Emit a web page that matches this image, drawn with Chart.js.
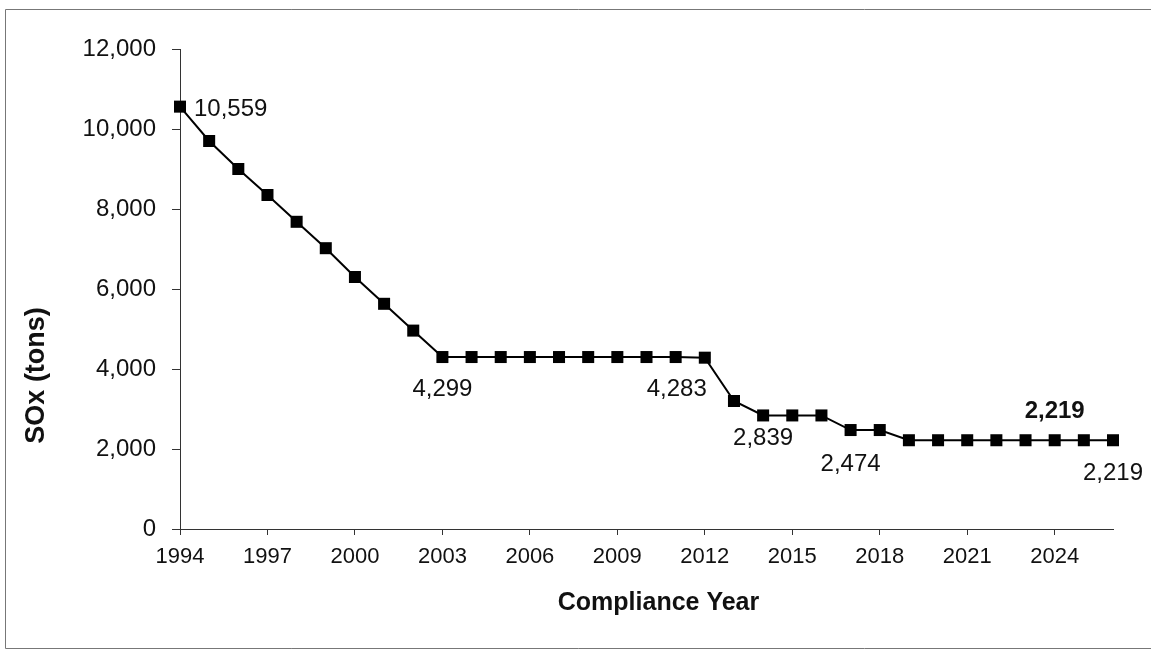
<!DOCTYPE html>
<html>
<head>
<meta charset="utf-8">
<script src="https://cdn.jsdelivr.net/npm/chart.js@4"></script>
<style>
    html, body { margin: 0; padding: 0; background: #fff; }
    #wrap { width: 1151px; height: 650px; position: relative; }
</style>
</head>
<body>
<div id="wrap"><canvas id="chart"></canvas></div>
<script>
// compliance years and SOx allocation (tons)
const years = [1994, 1995, 1996, 1997, 1998, 1999, 2000, 2001, 2002, 2003,
    2004, 2005, 2006, 2007, 2008, 2009, 2010, 2011, 2012, 2013,
    2014, 2015, 2016, 2017, 2018, 2019, 2020, 2021, 2022, 2023,
    2024, 2025, 2026];
const sox = [10559, 9700, 9000, 8350, 7680, 7020, 6300, 5630, 4960, 4299,
    4299, 4299, 4299, 4299, 4299, 4299, 4299, 4299, 4283, 3200,
    2839, 2839, 2839, 2474, 2474, 2219, 2219, 2219, 2219, 2219,
    2219, 2219, 2219];
const yTicks = [0, 2000, 4000, 6000, 8000, 10000, 12000];
const xTickYears = [1994, 1997, 2000, 2003, 2006, 2009, 2012, 2015, 2018, 2021, 2024];

// which points carry a value label
const labelYears = [1994, 2003, 2012, 2014, 2017, 2024, 2026];

const FONT = "'Liberation Sans', Arial, sans-serif";
const fmt = v => v.toLocaleString("en-US");

// label placement per year: [dx, dy, align, bold]
const labelPlace = {
    1994: [14, 3, "left", false],
    2003: [0, 32, "center", false],
    2012: [2, 32, "right", false],
    2014: [0, 23, "center", false],
    2017: [0, 34, "center", false],
    2024: [0, -29, "center", true],
    2026: [0, 33, "center", false]
};

const pointLabels = {
    id: "pointLabels",
    afterDatasetsDraw(chart) {
        const ctx = chart.ctx;
        const meta = chart.getDatasetMeta(0);
        ctx.save();
        ctx.fillStyle = "#111";
        ctx.textBaseline = "middle";
        labelYears.forEach(yr => {
            const i = years.indexOf(yr);
            const pt = meta.data[i];
            const [dx, dy, align, bold] = labelPlace[yr];
            ctx.font = (bold ? "bold " : "") + "24px " + FONT;
            ctx.textAlign = align;
            ctx.fillText(fmt(sox[i]), pt.x + dx, pt.y + dy);
        });
        ctx.restore();
    }
};

const frameAndTitles = {
    id: "frameAndTitles",
    beforeDraw(chart) {
        const ctx = chart.ctx;
        ctx.save();
        ctx.strokeStyle = "#777";
        ctx.lineWidth = 1;
        ctx.beginPath();
        ctx.moveTo(1151, 9.5);
        ctx.lineTo(5.5, 9.5);
        ctx.lineTo(5.5, 648.5);
        ctx.lineTo(1151, 648.5);
        ctx.stroke();
        ctx.restore();
    },
    afterDraw(chart) {
        const ctx = chart.ctx;
        const area = chart.chartArea;
        ctx.save();
        ctx.fillStyle = "#111";
        ctx.textAlign = "center";
        ctx.textBaseline = "middle";
        ctx.font = "bold 25px " + FONT;
        ctx.fillText("Compliance Year", (area.left + area.right) / 2 + 12, 603);
        ctx.translate(37, area.top + (area.bottom - area.top) * 0.68);
        ctx.rotate(-Math.PI / 2);
        ctx.font = "bold 27px " + FONT;
        ctx.fillText("SOx (tons)", 0, 0);
        ctx.restore();
    }
};

new Chart(document.getElementById("chart"), {
    type: "line",
    data: {
        datasets: [{
            data: years.map((y, i) => ({ x: y, y: sox[i] })),
            borderColor: "#000",
            borderWidth: 2,
            backgroundColor: "#000",
            pointStyle: "rect",
            pointRadius: 8.5,
            pointHoverRadius: 8.5,
            pointBackgroundColor: "#000",
            pointBorderWidth: 0,
            tension: 0,
            clip: false
        }]
    },
    options: {
        responsive: true,
        maintainAspectRatio: false,
        animation: false,
        layout: { padding: { top: 49, right: 38, bottom: 0, left: 0 } },
        plugins: {
            legend: { display: false },
            tooltip: { enabled: false }
        },
        scales: {
            x: {
                type: "linear",
                min: 1994,
                max: 2026,
                afterBuildTicks: axis => {
                    axis.ticks = xTickYears.map(v => ({ value: v }));
                },
                afterFit: scale => { scale.height = 121; },
                grid: { drawOnChartArea: false, drawTicks: true, tickLength: 6, color: "#333" },
                border: { color: "#333", width: 1 },
                ticks: {
                    color: "#111",
                    font: { family: FONT, size: 22 },
                    padding: 9,
                    maxRotation: 0,
                    autoSkip: false,
                    callback: v => String(v)
                }
            },
            y: {
                min: 0,
                max: 12000,
                afterBuildTicks: axis => {
                    axis.ticks = yTicks.map(v => ({ value: v }));
                },
                afterFit: scale => { scale.width = 180; },
                grid: { drawOnChartArea: false, drawTicks: true, tickLength: 8, color: "#333" },
                border: { color: "#333", width: 1 },
                ticks: {
                    color: "#111",
                    font: { family: FONT, size: 24 },
                    padding: 16,
                    callback: v => fmt(v)
                }
            }
        }
    },
    plugins: [pointLabels, frameAndTitles]
});
</script>
</body>
</html>
